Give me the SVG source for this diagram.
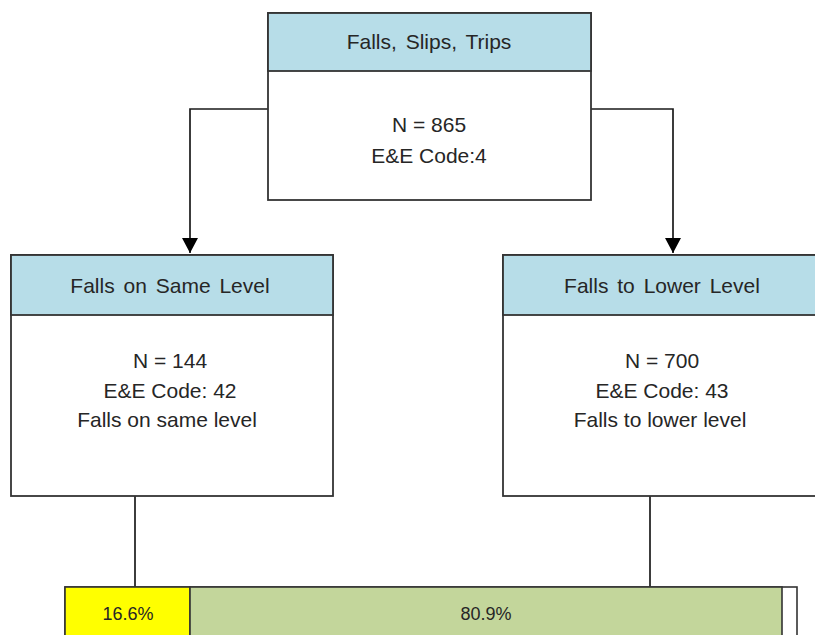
<svg xmlns="http://www.w3.org/2000/svg" width="815" height="635" viewBox="0 0 815 635">
<style>
.box{fill:#ffffff;stroke:#333333;stroke-width:1.8}
.hdr{fill:#b7dde8;stroke:#333333;stroke-width:1.8}
.t{font-family:"Liberation Sans",Arial,sans-serif;font-size:21px;fill:#262626;text-anchor:middle}
.h{word-spacing:3px}
.ln{fill:none;stroke:#1a1a1a;stroke-width:1.7}
.p{font-family:"Liberation Sans",Arial,sans-serif;font-size:18px;fill:#262626;text-anchor:middle}
</style>
<defs>
<marker id="ah" viewBox="0 0 15 16" refX="15" refY="8" markerWidth="15" markerHeight="16" markerUnits="userSpaceOnUse" orient="auto">
<path d="M0,0 L15,8 L0,16 Z" fill="#000000"/>
</marker>
</defs>
<rect width="815" height="635" fill="#ffffff"/>
<g id="connectors">
<path class="ln" d="M268,109 H190 V253" marker-end="url(#ah)"/>
<path class="ln" d="M591,109 H673 V253" marker-end="url(#ah)"/>
<path class="ln" d="M135,496 V587"/>
<path class="ln" d="M650,496 V587"/>
</g>
<g id="node-top">
<rect class="box" x="268" y="13" width="323" height="187"/>
<rect class="hdr" x="268" y="13" width="323" height="58"/>
<text class="t h" x="429" y="49">Falls, Slips, Trips</text>
<text class="t" x="429" y="132">N = 865</text>
<text class="t" x="429" y="163">E&amp;E Code:4</text>
</g>
<g id="node-same">
<rect class="box" x="11" y="255" width="322" height="241"/>
<rect class="hdr" x="11" y="255" width="322" height="60"/>
<text class="t h" x="170" y="293">Falls on Same Level</text>
<text class="t" x="170" y="368">N = 144</text>
<text class="t" x="170" y="398">E&amp;E Code: 42</text>
<text class="t" x="167" y="427">Falls on same level</text>
</g>
<g id="node-lower">
<rect class="box" x="503" y="255" width="322" height="241"/>
<rect class="hdr" x="503" y="255" width="322" height="60"/>
<text class="t h" x="662" y="293">Falls to Lower Level</text>
<text class="t" x="662" y="368">N = 700</text>
<text class="t" x="662" y="398">E&amp;E Code: 43</text>
<text class="t" x="660" y="427">Falls to lower level</text>
</g>
<g id="bar">
<rect x="65" y="587" width="732" height="60" fill="#ffffff" stroke="#333333" stroke-width="1.6"/>
<rect x="65" y="587" width="125" height="60" fill="#ffff00" stroke="#333333" stroke-width="1.6"/>
<rect x="190" y="587" width="592" height="60" fill="#c3d69b" stroke="#333333" stroke-width="1.6"/>
<text class="p" x="128" y="620">16.6%</text>
<text class="p" x="486" y="620">80.9%</text>
</g>
</svg>
